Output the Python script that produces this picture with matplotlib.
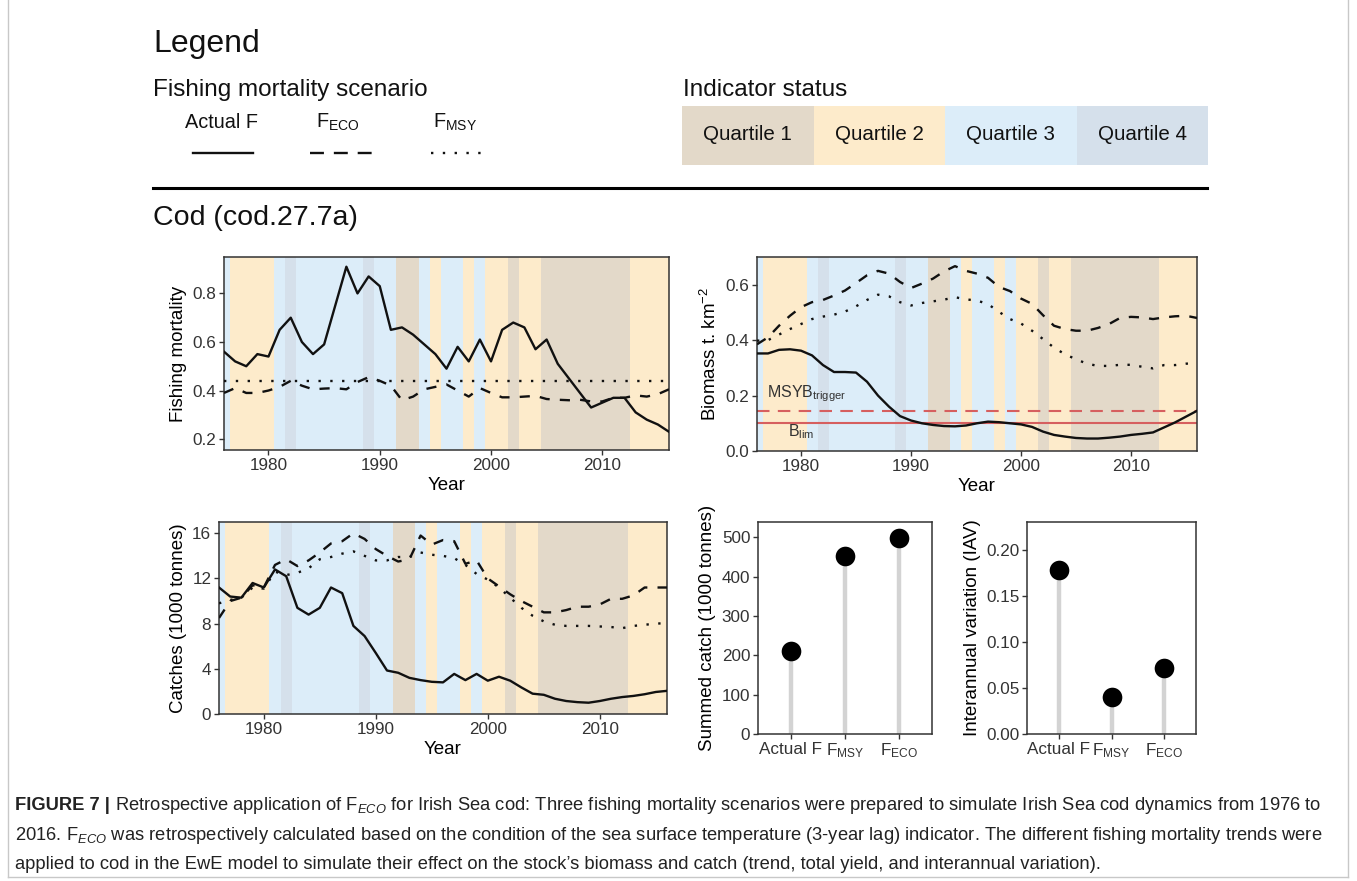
import matplotlib
matplotlib.use("Agg")
import matplotlib.pyplot as plt
import numpy as np
from matplotlib.lines import Line2D
from matplotlib.patches import Rectangle
from matplotlib.ticker import FormatStrFormatter

plt.rcParams['font.family'] = ['Liberation Sans', 'DejaVu Sans']
plt.rcParams['mathtext.fontset'] = 'custom'
plt.rcParams['mathtext.rm'] = 'Liberation Sans'
plt.rcParams['mathtext.it'] = 'Liberation Sans:italic'
plt.rcParams['mathtext.bf'] = 'Liberation Sans:bold'

# --- dados ---
anos = np.arange(1976, 2017)

# quartil do indicador (1..4) para cada ano
quartil = [3, 2, 2, 2, 2, 3, 4, 3, 3, 3, 3, 3, 3, 4, 3, 3, 1, 1, 3, 2, 3,
           3, 2, 3, 2, 2, 1, 2, 2, 1, 1, 1, 1, 1, 1, 1, 1, 2, 2, 2, 2]

# mortalidade por pesca
f_actual = [0.56, 0.52, 0.50, 0.55, 0.54, 0.65, 0.70, 0.60, 0.55, 0.59, 0.75,
            0.91, 0.80, 0.87, 0.83, 0.65, 0.66, 0.63, 0.59, 0.55, 0.49, 0.58,
            0.52, 0.61, 0.52, 0.65, 0.68, 0.66, 0.57, 0.61, 0.51, 0.45, 0.39,
            0.33, 0.35, 0.37, 0.37, 0.31, 0.28, 0.26, 0.23]
f_eco = [0.39, 0.41, 0.39, 0.39, 0.40, 0.415, 0.44, 0.42, 0.405, 0.408, 0.41,
         0.405, 0.435, 0.455, 0.44, 0.42, 0.36, 0.375, 0.405, 0.415, 0.425, 0.40,
         0.375, 0.41, 0.39, 0.372, 0.372, 0.375, 0.378, 0.365, 0.362, 0.36, 0.362,
         0.355, 0.355, 0.37, 0.37, 0.38, 0.375, 0.385, 0.405]
f_msy = [0.44, 0.44, 0.44, 0.44, 0.44, 0.44, 0.44, 0.44, 0.44, 0.44, 0.44,
         0.44, 0.44, 0.44, 0.44, 0.44, 0.44, 0.44, 0.44, 0.44, 0.44, 0.44,
         0.44, 0.44, 0.44, 0.44, 0.44, 0.44, 0.44, 0.44, 0.44, 0.44, 0.44,
         0.44, 0.44, 0.44, 0.44, 0.44, 0.44, 0.44, 0.44]

# biomassa (t km-2)
bio_actual = [0.352, 0.352, 0.365, 0.367, 0.362, 0.345, 0.31, 0.285, 0.285, 0.283,
              0.25, 0.2, 0.16, 0.126, 0.11, 0.10, 0.094, 0.09, 0.089, 0.092, 0.1,
              0.106, 0.104, 0.1, 0.096, 0.087, 0.07, 0.058, 0.052, 0.047, 0.045,
              0.045, 0.048, 0.052, 0.058, 0.062, 0.067, 0.085, 0.103, 0.124, 0.145]
bio_eco = [0.385, 0.41, 0.452, 0.488, 0.519, 0.537, 0.545, 0.561, 0.579, 0.606,
           0.634, 0.65, 0.64, 0.61, 0.588, 0.604, 0.622, 0.648, 0.667, 0.65, 0.64,
           0.625, 0.592, 0.577, 0.55, 0.531, 0.49, 0.452, 0.44, 0.434, 0.434,
           0.444, 0.458, 0.48, 0.484, 0.482, 0.476, 0.482, 0.486, 0.488, 0.48]
bio_msy = [0.398, 0.40, 0.42, 0.44, 0.458, 0.476, 0.485, 0.492, 0.503, 0.522,
           0.545, 0.564, 0.558, 0.537, 0.525, 0.534, 0.54, 0.546, 0.555, 0.547,
           0.543, 0.53, 0.502, 0.476, 0.46, 0.434, 0.404, 0.373, 0.349, 0.331,
           0.315, 0.307, 0.307, 0.311, 0.311, 0.304, 0.298, 0.31, 0.31, 0.315, 0.318]
msy_b_trigger = 0.145
b_lim = 0.10

# capturas (1000 t)
cat_actual = [11.2, 10.4, 10.3, 11.6, 11.2, 12.8, 12.2, 9.4, 8.8, 9.4, 11.2,
              10.7, 7.8, 6.9, 5.4, 3.85, 3.65, 3.2, 3.0, 2.85, 2.8, 3.55, 3.0,
              3.55, 2.95, 3.3, 2.95, 2.35, 1.8, 1.7, 1.35, 1.15, 1.05, 1.0,
              1.15, 1.35, 1.5, 1.6, 1.75, 1.95, 2.05]
cat_eco = [8.5, 10.0, 10.3, 11.4, 11.2, 13.2, 13.7, 13.1, 13.6, 14.3, 15.1,
           15.3, 16.0, 15.5, 14.6, 14.0, 13.5, 13.7, 15.8, 15.0, 15.4, 15.3,
           13.3, 13.6, 12.0, 11.3, 10.6, 10.0, 9.5, 9.0, 9.0, 9.2, 9.5, 9.5,
           9.7, 10.2, 10.2, 10.5, 11.2, 11.2, 11.2]
cat_msy = [9.8, 10.1, 10.3, 11.2, 11.1, 12.6, 12.3, 12.5, 12.9, 13.7, 13.9,
           14.2, 14.4, 14.0, 13.6, 13.6, 13.9, 13.9, 14.3, 14.1, 14.0, 13.8,
           13.2, 12.4, 11.9, 11.2, 10.3, 9.4, 8.7, 8.2, 7.9, 7.8, 7.8, 7.8,
           7.75, 7.7, 7.6, 7.8, 7.9, 8.0, 8.05]

# resumo por cenário
cenarios = ['Actual F', r'F$_\mathrm{MSY}$', r'F$_\mathrm{ECO}$']
captura_total = [210, 453, 498]
iav = [0.178, 0.040, 0.072]

quartis = ['Quartile 1', 'Quartile 2', 'Quartile 3', 'Quartile 4']

# --- estilo ---
cores_q = {1: '#e3d9c9', 2: '#fdebcb', 3: '#dcedf9', 4: '#d5e0eb'}
preto = '#111111'
vermelho = '#d65f5f'
cinza_txt = '#333333'
lw_linha = 1.7
tracejado = (0, (4.3, 4.3))
pontilhado = (0, (1, 4))
fs_tick = 12.3
fs_titulo = 13.5

W, H = 1357, 881
fig = plt.figure(figsize=(W / 100, H / 100), dpi=100)


def eixo(x0, y0, x1, y1):
    return fig.add_axes([x0 / W, 1 - y1 / H, (x1 - x0) / W, (y1 - y0) / H])


def texto(x, y, s, **kw):
    return fig.text(x / W, 1 - y / H, s, **kw)


def linha(x0, x1, y, **kw):
    fig.add_artist(Line2D([x0 / W, x1 / W], [1 - y / H, 1 - y / H], **kw))


def estilo(ax):
    for sp in ax.spines.values():
        sp.set_color(cinza_txt)
        sp.set_linewidth(1.1)
    ax.tick_params(direction='out', length=3.5, width=1.0, color=cinza_txt,
                   labelsize=fs_tick, labelcolor=cinza_txt, pad=2)


def serie(ax, a, b, c, ylim, yticks, fmt, ylabel):
    for ano, q in zip(anos, quartil):
        ax.axvspan(ano - 0.5, ano + 0.5, color=cores_q[q], lw=0,
                   antialiased=False, zorder=0)
    ax.plot(anos, a, color=preto, lw=lw_linha, solid_joinstyle='round', zorder=3)
    ax.plot(anos, b, color=preto, lw=lw_linha, ls=tracejado, zorder=3)
    ax.plot(anos, c, color=preto, lw=lw_linha, ls=pontilhado, zorder=3)
    ax.set_xlim(1976, 2016)
    ax.set_ylim(*ylim)
    ax.set_xticks([1980, 1990, 2000, 2010])
    ax.set_yticks(yticks)
    ax.yaxis.set_major_formatter(FormatStrFormatter(fmt))
    ax.set_xlabel('Year', fontsize=fs_titulo, labelpad=3)
    ax.set_ylabel(ylabel, fontsize=fs_titulo, labelpad=4)
    estilo(ax)


def pirulito(ax, valores, ylim, yticks, fmt, ylabel):
    x = np.arange(1, len(valores) + 1)
    ax.vlines(x, 0, valores, color='#d3d3d3', lw=3.2, zorder=1)
    ax.scatter(x, valores, s=200, color='black', zorder=2, linewidths=0)
    ax.set_xlim(0.4, 3.6)
    ax.set_ylim(*ylim)
    ax.set_xticks(x)
    ax.set_xticklabels(cenarios)
    ax.set_yticks(yticks)
    ax.yaxis.set_major_formatter(FormatStrFormatter(fmt))
    ax.set_ylabel(ylabel, fontsize=fs_titulo, labelpad=4)
    estilo(ax)


# painéis
ax1 = eixo(224, 257, 669, 450)
serie(ax1, f_actual, f_eco, f_msy, (0.155, 0.95), [0.2, 0.4, 0.6, 0.8], '%.1f',
      'Fishing mortality')

ax2 = eixo(757, 257, 1197, 451)
serie(ax2, bio_actual, bio_eco, bio_msy, (0.0, 0.70), [0.0, 0.2, 0.4, 0.6], '%.1f',
      r'Biomass t. km$^{-2}$')
ax2.axhline(msy_b_trigger, color=vermelho, lw=1.5, ls=(0, (6, 4)), zorder=2)
ax2.axhline(b_lim, color=vermelho, lw=1.5, zorder=2)
ax2.text(1980.5, 0.205, r'MSYB$_\mathrm{trigger}$', ha='center', va='center',
         fontsize=11.5, color=cinza_txt, zorder=4)
ax2.text(1980, 0.07, r'B$_\mathrm{lim}$', ha='center', va='center',
         fontsize=11.5, color=cinza_txt, zorder=4)

ax3 = eixo(219, 522, 667, 714)
serie(ax3, cat_actual, cat_eco, cat_msy, (0, 17), [0, 4, 8, 12, 16], '%d',
      'Catches (1000 tonnes)')

ax4 = eixo(758, 522, 932, 734)
pirulito(ax4, captura_total, (0, 539), [0, 100, 200, 300, 400, 500], '%d',
         'Summed catch (1000 tonnes)')

ax5 = eixo(1027, 522, 1196, 734)
pirulito(ax5, iav, (0, 0.23), [0, 0.05, 0.10, 0.15, 0.20], '%.2f',
         'Interannual variation (IAV)')

# --- legenda no topo ---
texto(153, 44, 'Legend', fontsize=23, va='center', ha='left', color='#111111')
texto(153, 90, 'Fishing mortality scenario', fontsize=17.5, va='center',
      ha='left', color='#111111')
texto(683, 90, 'Indicator status', fontsize=17.5, va='center', ha='left',
      color='#111111')

rotulos_leg = ['Actual F', r'F$_\mathrm{ECO}$', r'F$_\mathrm{MSY}$']
centros_leg = [222, 338, 455]
estilos_leg = ['-', (0, (5.9, 4.2)), (0, (1, 4))]
extensoes = [(193, 253), (310, 372), (431, 482)]
for rot, cx, ls, (xa, xb) in zip(rotulos_leg, centros_leg, estilos_leg, extensoes):
    texto(cx, 128, rot, fontsize=14.3, ha='center', va='baseline', color='#111111')
    linha(xa, xb, 153, color=preto, lw=lw_linha, ls=ls)

x_q = 682
for i, rot in enumerate(quartis):
    fig.add_artist(Rectangle((x_q / W, 1 - 165 / H), 131.5 / W, 59 / H,
                             transform=fig.transFigure, color=cores_q[i + 1], lw=0))
    texto(x_q + 65.75, 135, rot, fontsize=14.8, ha='center', va='center',
          color='#111111')
    x_q += 131.5

linha(153, 1207, 188, color='black', lw=2.2)
texto(153, 218, 'Cod (cod.27.7a)', fontsize=20.5, va='center', ha='left',
      color='#111111')

# --- legenda da figura ---
fs_cap = 13.2
r = fig.canvas.get_renderer()
t1 = texto(15, 810, 'FIGURE 7 |', fontsize=fs_cap, weight='bold',
           va='baseline', color='#222222')
bb = t1.get_window_extent(renderer=r)
fig.text(bb.x1 / W, 1 - 810 / H,
         ' Retrospective application of F$_{ECO}$ for Irish Sea cod: Three fishing '
         'mortality scenarios were prepared to simulate Irish Sea cod dynamics from 1976 to',
         fontsize=fs_cap, va='baseline', color='#222222')
texto(15, 840, '2016. F$_{ECO}$ was retrospectively calculated based on the condition '
      'of the sea surface temperature (3-year lag) indicator. The different fishing '
      'mortality trends were', fontsize=fs_cap, va='baseline', color='#222222')
texto(15, 869, 'applied to cod in the EwE model to simulate their effect on the '
      'stock\u2019s biomass and catch (trend, total yield, and interannual variation).',
      fontsize=fs_cap, va='baseline', color='#222222')

# moldura cinza
borda = dict(color='#c8c8c8', lw=1.0)
fig.add_artist(Line2D([8 / W, 8 / W], [1, 1 - 877 / H], **borda))
fig.add_artist(Line2D([1348 / W, 1348 / W], [1, 1 - 877 / H], **borda))
linha(8, 1348, 877, **borda)

fig.savefig('out.png', dpi=100)
